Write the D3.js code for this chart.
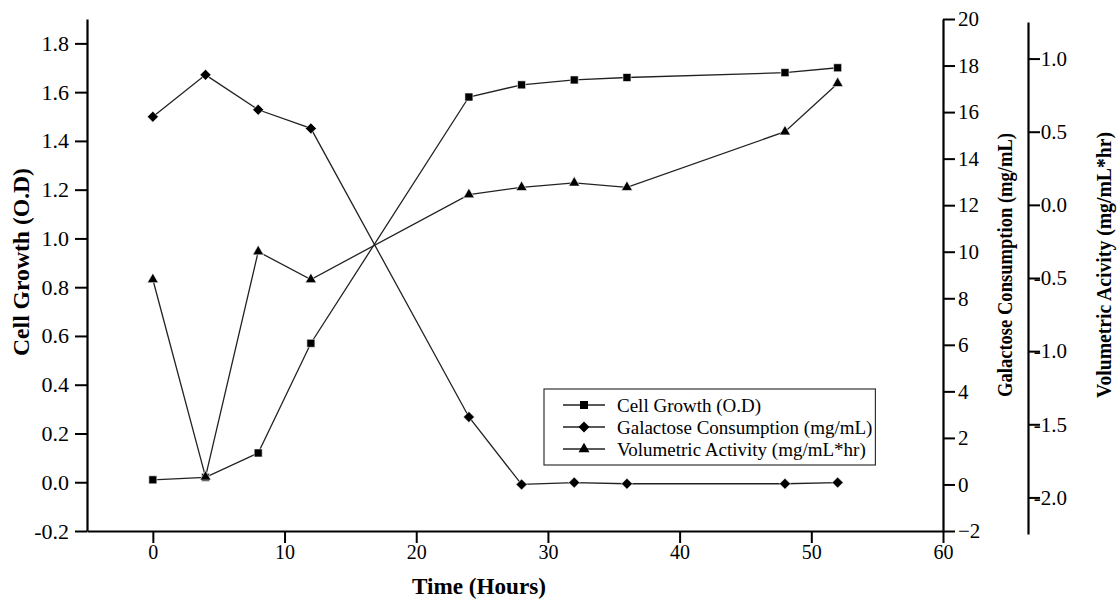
<!DOCTYPE html>
<html>
<head>
<meta charset="utf-8">
<script src="https://cdn.jsdelivr.net/npm/d3@7"></script>
<style>
  html, body { margin: 0; padding: 0; background: #fff; }
  svg { display: block; font-family: "Liberation Serif", "Times New Roman", serif; }
</style>
</head>
<body>
<svg id="chart" width="1117" height="606"></svg>
<script>
// Sampling times (hours)
const time = [0, 4, 8, 12, 24, 28, 32, 36, 48, 52];
// Cell growth, optical density
const cellGrowth = [0.01, 0.02, 0.12, 0.57, 1.58, 1.63, 1.65, 1.66, 1.68, 1.70];
// Galactose remaining, mg/mL
const galactose = [15.8, 17.6, 16.1, 15.3, 2.9, 0.0, 0.08, 0.03, 0.03, 0.08];
// Volumetric activity, mg/mL*hr
const volumetric = [-0.51, -1.86, -0.32, -0.51, 0.07, 0.12, 0.15, 0.12, 0.50, 0.83];

// Tick labels
const xTicks = [0, 10, 20, 30, 40, 50, 60];
const leftTicks = [-0.2, 0.0, 0.2, 0.4, 0.6, 0.8, 1.0, 1.2, 1.4, 1.6, 1.8];
const galTicks = [-2, 0, 2, 4, 6, 8, 10, 12, 14, 16, 18, 20];
const volTicks = [-2.0, -1.5, -1.0, -0.5, 0.0, 0.5, 1.0];

const legendNames = ["Cell Growth (O.D)", "Galactose Consumption (mg/mL)", "Volumetric Activity (mg/mL*hr)"];

const svg = d3.select("#chart");

const x = d3.scaleLinear().domain([-5, 60]).range([87, 943]);
const yL = d3.scaleLinear().domain([-0.2, 1.9]).range([531, 19]);
const yG = d3.scaleLinear().domain([-2, 20]).range([531, 19]);
const yV = d3.scaleLinear().domain([-2.25, 1.25]).range([534, 22]);

const MAJOR = 12, MINOR = 6;
const minorRange = (a, b, s) => d3.range(Math.round((b - a) / s) + 1).map(i => +(a + i * s).toFixed(4));

function styleAxis(g, size) {
  g.selectAll("path.domain").attr("stroke", "#000").attr("stroke-width", 2.2);
  g.selectAll("line").attr("stroke", "#000").attr("stroke-width", 2);
  g.selectAll(".tick text").attr("fill", "#000").style("font-size", size + "px")
    .style("font-family", '"Liberation Serif", serif');
}

// Bottom axis
const gx = svg.append("g").attr("transform", "translate(0,531)");
gx.call(d3.axisBottom(x).tickValues(minorRange(-5, 55, 10)).tickSize(MINOR).tickSizeOuter(0).tickFormat(""));
gx.call(d3.axisBottom(x).tickValues(xTicks).tickSize(MAJOR).tickSizeOuter(0).tickPadding(2).tickFormat(d3.format("d")));
styleAxis(gx, 20);

// Left axis
const fmt1 = d => d.toFixed(1);
const gl = svg.append("g").attr("transform", "translate(87,0)");
gl.call(d3.axisLeft(yL).tickValues(minorRange(-0.1, 1.9, 0.2)).tickSize(MINOR).tickSizeOuter(0).tickFormat(""));
gl.call(d3.axisLeft(yL).tickValues(leftTicks).tickSize(MAJOR).tickSizeOuter(0).tickPadding(6).tickFormat(fmt1));
styleAxis(gl, 22);

// Galactose axis (right)
const gg = svg.append("g").attr("transform", "translate(943,0)");
gg.call(d3.axisRight(yG).tickValues(minorRange(-1, 19, 2)).tickSize(MINOR).tickSizeOuter(0).tickFormat(""));
gg.call(d3.axisRight(yG).tickValues(galTicks).tickSize(MAJOR).tickSizeOuter(0).tickPadding(3).tickFormat(d3.format("d")));
styleAxis(gg, 21);

// Volumetric axis (offset right)
const gv = svg.append("g").attr("transform", "translate(1028,0)");
gv.call(d3.axisRight(yV).tickValues(minorRange(-2.25, 1.25, 0.5)).tickSize(MINOR).tickSizeOuter(0).tickFormat(""));
gv.call(d3.axisRight(yV).tickValues(volTicks).tickSize(MAJOR).tickSizeOuter(0).tickPadding(7).tickFormat(fmt1));
styleAxis(gv, 21);
gv.selectAll(".tick text").attr("text-anchor", "end").attr("x", 39);

// Axis titles, fitted to a set length along the text direction
const title = (txt, tx, ty, rot, size, len) => svg.append("text")
  .attr("transform", `translate(${tx},${ty}) rotate(${rot})`)
  .attr("text-anchor", "middle")
  .attr("textLength", len).attr("lengthAdjust", "spacingAndGlyphs")
  .style("font-size", size + "px").style("font-weight", "bold").attr("fill", "#000")
  .text(txt);
title("Cell Growth (O.D)", 29, 262, -90, 23, 188);
title("Galactose Consumption (mg/mL)", 1012, 265, -90, 22, 264);
title("Volumetric Acivity (mg/mL*hr)", 1111, 265, -90, 22, 266);
title("Time (Hours)", 479, 594, 0, 23, 134);

// Marker shapes
const diamond = () => "M0,-5.5L5.5,0L0,5.5L-5.5,0Z";
const symbols = [
  d3.symbol().type(d3.symbolSquare).size(64),
  diamond,
  d3.symbol().type(d3.symbolTriangle).size(52)
];

const series = [
  { values: cellGrowth, y: yL },
  { values: galactose, y: yG },
  { values: volumetric, y: yV }
];

const line = yScale => d3.line().x(d => x(d[0])).y(d => yScale(d[1]));

series.forEach(s => {
  const pts = time.map((t, k) => [t, s.values[k]]);
  svg.append("path").datum(pts)
    .attr("d", line(s.y))
    .attr("fill", "none").attr("stroke", "#222").attr("stroke-width", 1.3);
});
series.forEach((s, i) => {
  const pts = time.map((t, k) => [t, s.values[k]]);
  svg.append("g").selectAll("path").data(pts).join("path")
    .attr("transform", d => `translate(${x(d[0])},${s.y(d[1])})`)
    .attr("d", symbols[i]())
    .attr("fill", "#000").attr("stroke", "#fff").attr("stroke-width", 0.6);
});

// Legend
const lg = svg.append("g").attr("transform", "translate(544,389)");
const box = lg.append("rect").attr("height", 76)
  .attr("fill", "#fff").attr("stroke", "#333").attr("stroke-width", 1.2);
let maxEnd = 0;
legendNames.forEach((name, i) => {
  const cy = 16 + i * 22;
  lg.append("line").attr("x1", 19).attr("x2", 61).attr("y1", cy).attr("y2", cy)
    .attr("stroke", "#222").attr("stroke-width", 1.3);
  lg.append("path").attr("transform", `translate(40,${cy})`).attr("d", symbols[i]())
    .attr("fill", "#000");
  const t = lg.append("text").attr("x", 73).attr("y", cy).attr("dy", "0.35em")
    .style("font-size", "19px").attr("fill", "#000").text(name);
  maxEnd = Math.max(maxEnd, 73 + t.node().getComputedTextLength());
});
box.attr("width", maxEnd + 3);
</script>
</body>
</html>
